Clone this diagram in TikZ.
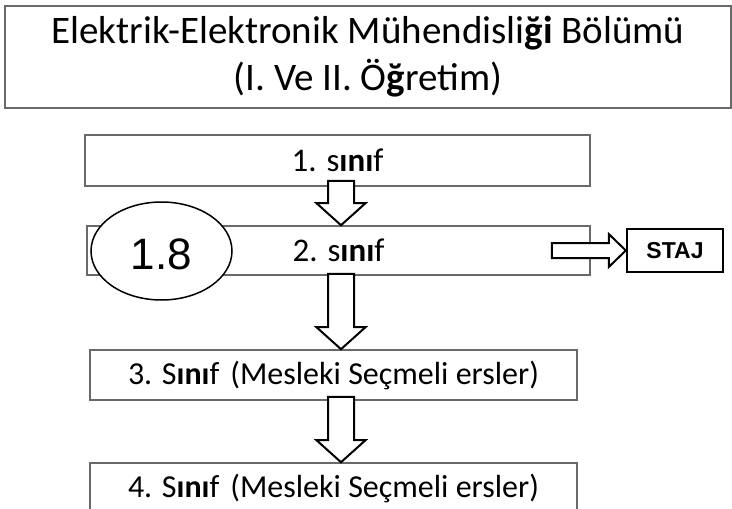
\documentclass[tikz,border=0pt]{standalone}
\usepackage{fontspec}
\setmainfont{Carlito}
\newfontfamily\arialf{Liberation Sans}
\usetikzlibrary{calc,shapes.geometric}
\definecolor{boxgray}{RGB}{105,105,105}
\def\ax{341pt}
\newcommand\downarr[3]{%
  \draw[barrow] let \p1=(#1.south), \p2=(#2.north) in
   (\ax-13pt,\y1+#3) -- (\ax+13pt,\y1+#3) -- (\ax+13pt,\y2+22pt) -- (\ax+24.5pt,\y2+22pt)
   -- (\ax,\y2) -- (\ax-24.5pt,\y2+22pt) -- (\ax-13pt,\y2+22pt) -- cycle;}
\begin{document}
\begin{tikzpicture}[x=1pt,y=-1pt,
  box/.style={draw=boxgray, line width=1.6pt, fill=white, inner sep=0pt,
    font=\fontsize{33}{38}\selectfont},
  lowbox/.style={box, font=\fontsize{32}{38}\selectfont},
  barrow/.style={draw=black, fill=white, line width=2pt, line join=miter}]
\useasboundingbox (0,0) rectangle (732,509);
\node[box, minimum width=726pt, minimum height=102pt, align=center,
  font=\fontsize{39}{47}\selectfont] (title) at (368,57)
  {Elektrik-Elektronik Mühendisli\textbf{ği} Bölümü\\(I. Ve II. Ö\textbf{ğ}retim)};
\node[box, minimum width=505pt, minimum height=51pt] (b1) at (337.5,160.5) {1. s\textbf{ını}f};
\node[box, minimum width=503pt, minimum height=49pt] (b2) at (338.5,250.5) {2. s\textbf{ını}f};
\node[lowbox, minimum width=487pt, minimum height=50pt] (b3) at (333.5,375) {3. S\textbf{ını}f\hspace{0.12em} (Mesleki Seçmeli ersler)};
\node[lowbox, minimum width=487pt, minimum height=50pt] (b4) at (333.5,488) {4. S\textbf{ını}f\hspace{0.12em} (Mesleki Seçmeli ersler)};
\node[draw=black, line width=2.4pt, minimum width=96pt, minimum height=43pt, inner sep=0pt,
  font=\arialf\bfseries\fontsize{23}{25}\selectfont] (staj) at (675,250.5) {STAJ};
\node[ellipse, draw=black, line width=1.5pt, fill=white, minimum width=141pt, minimum height=98pt,
  inner sep=0pt, font=\arialf\fontsize{44}{48}\selectfont] (e18) at (161.5,251)
  {\raisebox{-3.5pt}[\height][\depth]{1.8}};
\downarr{b1}{b2}{6pt}
\downarr{b2}{b3}{2pt}
\downarr{b3}{b4}{4pt}
\draw[barrow] let \p1=(b2.east), \p2=(staj.west) in
  (\x1-39pt,\y2+7.5pt) -- (\x2-17pt,\y2+7.5pt) -- (\x2-17pt,\y2+16.5pt) -- (\x2,\y2)
  -- (\x2-17pt,\y2-16.5pt) -- (\x2-17pt,\y2-7.5pt) -- (\x1-39pt,\y2-7.5pt) -- cycle;
\end{tikzpicture}
\end{document}
